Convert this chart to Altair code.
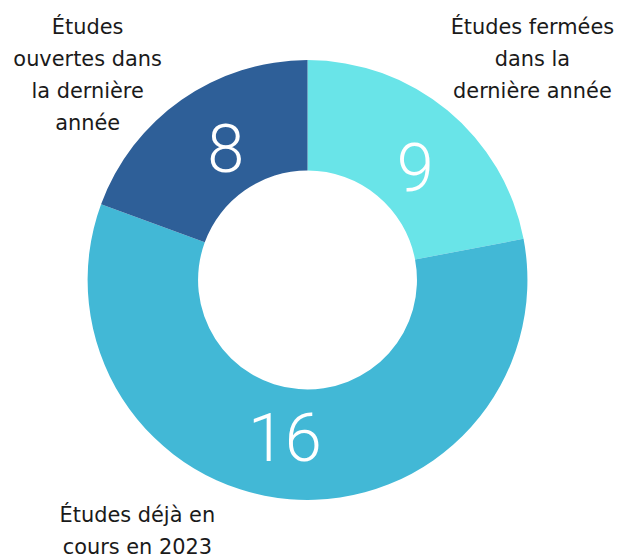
import altair as alt
import pandas as pd

categories = [
    "Études fermées dans la dernière année",
    "Études déjà en cours en 2023",
    "Études ouvertes dans la dernière année",
]
counts = [9, 16, 8]
# angular share of the ring as drawn in the picture (percent)
arc_share = [22.0, 58.6, 19.4]
slice_order = [1, 2, 3]
colors = ["#69E4E8", "#42B8D6", "#2E5F98"]

label_lines = [
    ["Études fermées", "dans la", "dernière année"],
    ["Études déjà en", "cours en 2023"],
    ["Études", "ouvertes dans", "la dernière", "année"],
]

df = pd.DataFrame({
    "category": categories,
    "count": counts,
    "share": arc_share,
    "ord": slice_order,
})

cx, cy = 301, 272

arcs = alt.Chart(df).mark_arc(innerRadius=110, outerRadius=221).encode(
    theta=alt.Theta("share:Q", stack=True),
    order=alt.Order("ord:Q"),
    x=alt.value(cx),
    y=alt.value(cy),
    color=alt.Color("category:N", scale=alt.Scale(domain=categories, range=colors), legend=None),
)

nums = alt.Chart(df).transform_joinaggregate(
    total="sum(share)"
).transform_window(
    cum="sum(share)", sort=[alt.SortField("ord")]
).transform_calculate(
    mid="(datum.cum - datum.share / 2) / datum.total * 2 * PI + 0.063"
).mark_text(radius=158, fontSize=67, color="white", font="Roboto",
            fontWeight=300, baseline="middle", align="center", dy=6).encode(
    theta=alt.Theta("mid:Q", scale=None),
    x=alt.value(cx),
    y=alt.value(cy),
    text="count:Q",
)

label_pos = [(527, 25), (130, 515), (80, 25)]
label_layers = []
for cat, lines, (lx, ly) in zip(categories, label_lines, label_pos):
    ldf = pd.DataFrame({"category": [cat], "lines": [lines]})
    label_layers.append(
        alt.Chart(ldf).mark_text(fontSize=21, font="DejaVu Sans", color="#1a1a1a",
                                 align="center", baseline="alphabetic", lineHeight=32).encode(
            text="lines",
            x=alt.value(lx),
            y=alt.value(ly),
        )
    )

chart = alt.layer(arcs, nums, *label_layers).properties(
    width=607, height=541, padding=0
).configure_view(stroke=None)

chart.save("out.html", embed_options={"renderer": "svg", "actions": False})
